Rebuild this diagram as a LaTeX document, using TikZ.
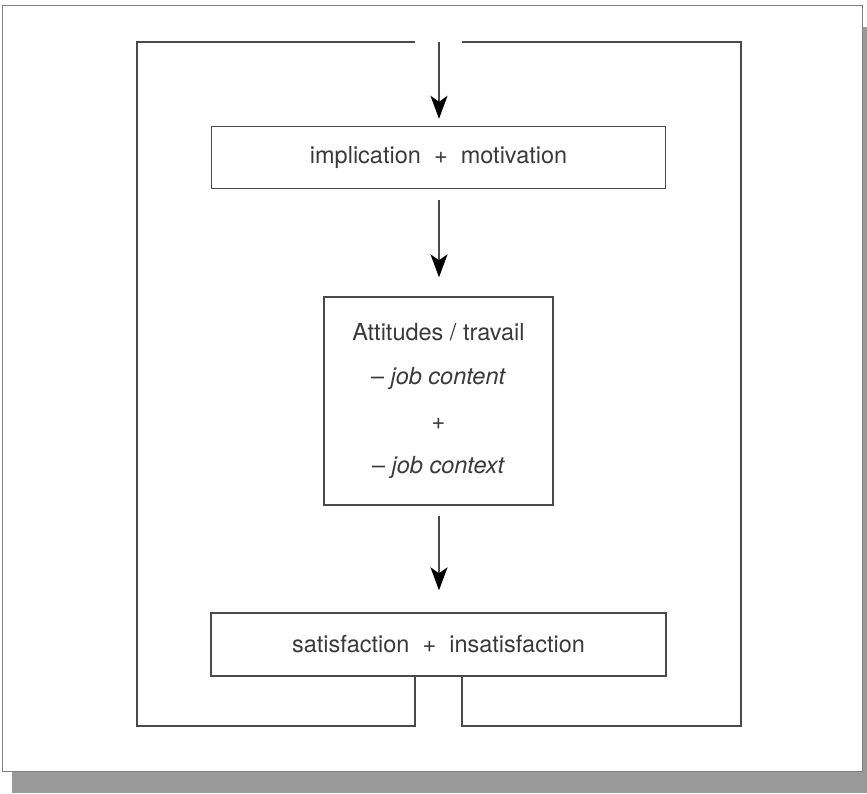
\documentclass[tikz,border=0pt]{standalone}
\usepackage{fontspec}
\setmainfont{TeX Gyre Heros}
\usepackage{tikz}
\usetikzlibrary{arrows.meta}

\definecolor{linegray}{HTML}{4A4A4A}
\definecolor{textgray}{HTML}{3A3A3A}
\definecolor{shadowgray}{HTML}{9A9A9A}

\tikzset{
  flowbox/.style={draw=linegray, line width=1.4pt, fill=white, text=textgray,
    font=\fontsize{23.5}{28}\selectfont, inner sep=0pt},
  flowarrow/.style={draw=linegray, line width=1.6pt,
    -{Stealth[length=23pt,width=17pt,inset=6pt,black]}},
  loopline/.style={draw=linegray, line width=1.4pt}
}

\begin{document}
\begin{tikzpicture}[x=1pt,y=-1pt]
            \useasboundingbox (0,0) rectangle (867,793);
            % shadow and frame
            \fill [shadowgray] (12,27) rectangle (867,793);
            \draw [gray, fill=white, line width=0.8pt] (2,5) rectangle (862,771);
            % boxes
            \node [flowbox, minimum width=454pt, minimum height=62pt] (implic) at (438.5,157.5) {implication \ + \ motivation};
            \node [flowbox, minimum width=229pt, minimum height=208pt, align=center,
              font=\fontsize{23.5}{44.5}\selectfont] (attit) at (438.5,401)
              {Attitudes / travail\\ -- \textit{job content}\\ +\\ -- \textit{job context}};
            \node [flowbox, minimum width=455pt, minimum height=63pt] (satisf) at (438.5,644.5) {satisfaction \ + \ insatisfaction};
            % loop
            \coordinate (gapL) at (415,42);
            \coordinate (gapR) at (462,42);
            \coordinate (entry) at (439,42);
            \draw [loopline] (gapL) -| (137,726) -| (satisf.south -| gapL);
            \draw [loopline] (gapR) -| (741,726) -| (satisf.south -| gapR);
            % arrows
            \draw [flowarrow, shorten >=7pt] (entry) -- (entry |- implic.north);
            \draw [flowarrow, shorten <=11pt, shorten >=19pt] (implic.south -| entry) -- (attit.north -| entry);
            \draw [flowarrow, shorten <=10pt, shorten >=22pt] (attit.south -| entry) -- (satisf.north -| entry);
        \end{tikzpicture}
\end{document}
